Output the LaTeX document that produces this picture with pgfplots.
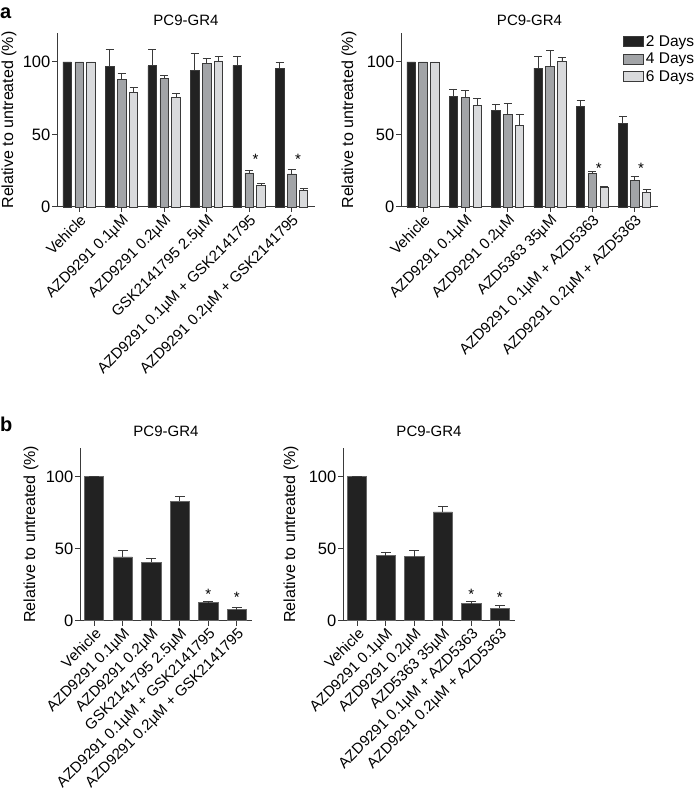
\documentclass[border=0pt]{standalone}
\usepackage{fontspec}
\setmainfont{Liberation Sans}
\usepackage{pgfplots}
\usepackage{pgfplotstable}
\pgfplotsset{compat=1.18}
\newcommand\fs{\fontsize{15}{18}\selectfont}
\definecolor{cdark}{HTML}{222222}
\definecolor{cgray}{HTML}{A2A4A7}
\definecolor{clight}{HTML}{D9DADC}
\definecolor{cline}{HTML}{3A3A3A}

\pgfplotstableread{
x d2 e2 d4 e4 d6 e6
0 100 0 100 0 100 0
1 97.0 12.0 88.1 3.8 79.3 3.3
2 97.4 11.0 88.4 2.6 75.3 3.1
3 94.0 12.0 98.8 3.8 100.7 3.3
4 97.7 6.5 23.5 1.8 14.9 1.4
5 95.3 4.7 22.8 3.2 11.2 1.4
}\tabAL
\pgfplotstableread{
x d2 e2 d4 e4 d6 e6
0 100 0 100 0 100 0
1 76.0 5.4 75.6 4.6 70.0 4.9
2 66.7 4.0 63.7 7.7 56.3 7.4
3 95.8 7.9 97.0 10.7 100.5 3.0
4 69.5 4.0 23.0 1.7 13.7 0.7
5 57.4 4.9 18.4 2.8 10.2 2.1
}\tabAR
\pgfplotstableread{
x v e
0 100 0
1 44.3 4.4
2 40.6 2.6
3 83.1 3.4
4 12.5 1.2
5 7.7 1.4
}\tabBL
\pgfplotstableread{
x v e
0 100 0
1 45.2 2.6
2 44.5 4.0
3 75.6 3.7
4 11.8 1.7
5 8.8 1.6
}\tabBR

\pgfplotsset{
  panel/.style={
    scale only axis,
    axis lines*=left,
    axis line style={line width=1pt, cline},
    ymin=0, ymax=120, ytick={0,50,100},
    xmin=-0.52, xmax=5.55,
    xtick={0,...,5},
    tick align=outside, major tick length=5pt,
    tick style={line width=1pt, cline},
    xticklabel style={rotate=45, anchor=north east, inner sep=1pt, font=\fs},
    yticklabel style={inner sep=1.5pt, font=\fontsize{16.5}{19}\selectfont},
    ylabel={Relative to untreated (\%)},
    ylabel style={font=\fontsize{16}{19}\selectfont, anchor=center},
    title={PC9-GR4},
    title style={font=\fs, anchor=south, inner sep=0pt, at={(0.5,1)}},
    /pgf/number format/assume math mode=true,
    clip=false,
  },
  eb/.style={draw=cline, line width=0.7pt,
    error bars/y dir=plus, error bars/y explicit,
    error bars/error bar style={line width=0.8pt, cline},
    error bars/error mark options={rotate=90, mark size=#1, line width=0.8pt, cline}},
  stars/.style={sharp plot, draw=none, mark=none, nodes near coords={*},
    every node near coord/.style={anchor=center, inner sep=0pt, font=\fs}},
}

\begin{document}
\begin{tikzpicture}
\path[use as bounding box] (0pt,0pt) rectangle (697pt,797pt);
\node[anchor=base west, inner sep=0pt, font=\fontsize{20}{24}\selectfont\bfseries] at (0pt,778pt) {a};
\node[anchor=base west, inner sep=0pt, font=\fontsize{20}{24}\selectfont\bfseries] at (0pt,365pt) {b};

% ---- panel a left
\begin{axis}[panel, at={(57pt,590pt)}, anchor=south west, width=258pt, height=174pt,
  ybar=3.4pt, bar width=0.2,
  title style={yshift=1pt},
  ylabel style={at={(axis description cs:-0.186,0.5)}},
  xticklabels={Vehicle, AZD9291 0.1µM, AZD9291 0.2µM, GSK2141795 2.5µM, AZD9291 0.1µM + GSK2141795, AZD9291 0.2µM + GSK2141795}]
\addplot[eb=4pt, fill=cdark] table[x=x, y=d2, y error=e2] {\tabAL};
\addplot[eb=4pt, fill=cgray] table[x=x, y=d4, y error=e4] {\tabAL};
\addplot[eb=4pt, fill=clight] table[x=x, y=d6, y error=e6] {\tabAL};
\addplot[stars] coordinates {(4.15,33) (5.15,33)};
\end{axis}

% ---- panel a right
\begin{axis}[panel, at={(401pt,590pt)}, anchor=south west, width=257pt, height=174pt,
  ybar=3.4pt, bar width=0.2,
  title style={yshift=1pt},
  ylabel style={at={(axis description cs:-0.202,0.5)}},
  xticklabels={Vehicle, AZD9291 0.1µM, AZD9291 0.2µM, AZD5363 35µM, AZD9291 0.1µM + AZD5363, AZD9291 0.2µM + AZD5363},
  legend style={at={(0.864,1)}, anchor=north west, draw=none, fill=none, inner sep=0pt,
    row sep=1.5pt, font=\fontsize{15.5}{18}\selectfont, nodes={inner sep=2pt}},
  legend cell align=left,
  legend image code/.code={\draw[#1] (0pt,-5pt) rectangle (20pt,5pt);}]
\addplot[eb=4pt, fill=cdark] table[x=x, y=d2, y error=e2] {\tabAR};
\addlegendentry{2 Days}
\addplot[eb=4pt, fill=cgray] table[x=x, y=d4, y error=e4] {\tabAR};
\addlegendentry{4 Days}
\addplot[eb=4pt, fill=clight] table[x=x, y=d6, y error=e6] {\tabAR};
\addlegendentry{6 Days}
\addplot[stars, forget plot] coordinates {(4.15,27) (5.15,27)};
\end{axis}

% ---- panel b left
\begin{axis}[panel, at={(80pt,176.3pt)}, anchor=south west, width=172pt, height=172.7pt,
  ybar=0pt, bar width=0.67,
  xmin=-0.5, xmax=5.53,
  title style={yshift=5pt},
  ylabel style={at={(axis description cs:-0.285,0.5)}},
  xticklabels={Vehicle, AZD9291 0.1µM, AZD9291 0.2µM, GSK2141795 2.5µM, AZD9291 0.1µM + GSK2141795, AZD9291 0.2µM + GSK2141795}]
\addplot[eb=5pt, fill=cdark, draw=black!60] table[x=x, y=v, y error=e] {\tabBL};
\addplot[stars] coordinates {(4,18.5) (5,16)};
\end{axis}

% ---- panel b right
\begin{axis}[panel, at={(343pt,176.3pt)}, anchor=south west, width=172pt, height=172.7pt,
  ybar=0pt, bar width=0.67,
  xmin=-0.5, xmax=5.53,
  title style={yshift=5pt},
  ylabel style={at={(axis description cs:-0.302,0.5)}},
  xticklabels={Vehicle, AZD9291 0.1µM, AZD9291 0.2µM, AZD5363 35µM, AZD9291 0.1µM + AZD5363, AZD9291 0.2µM + AZD5363}]
\addplot[eb=5pt, fill=cdark, draw=black!60] table[x=x, y=v, y error=e] {\tabBR};
\addplot[stars] coordinates {(4,18.5) (5,16)};
\end{axis}
\end{tikzpicture}
\end{document}
